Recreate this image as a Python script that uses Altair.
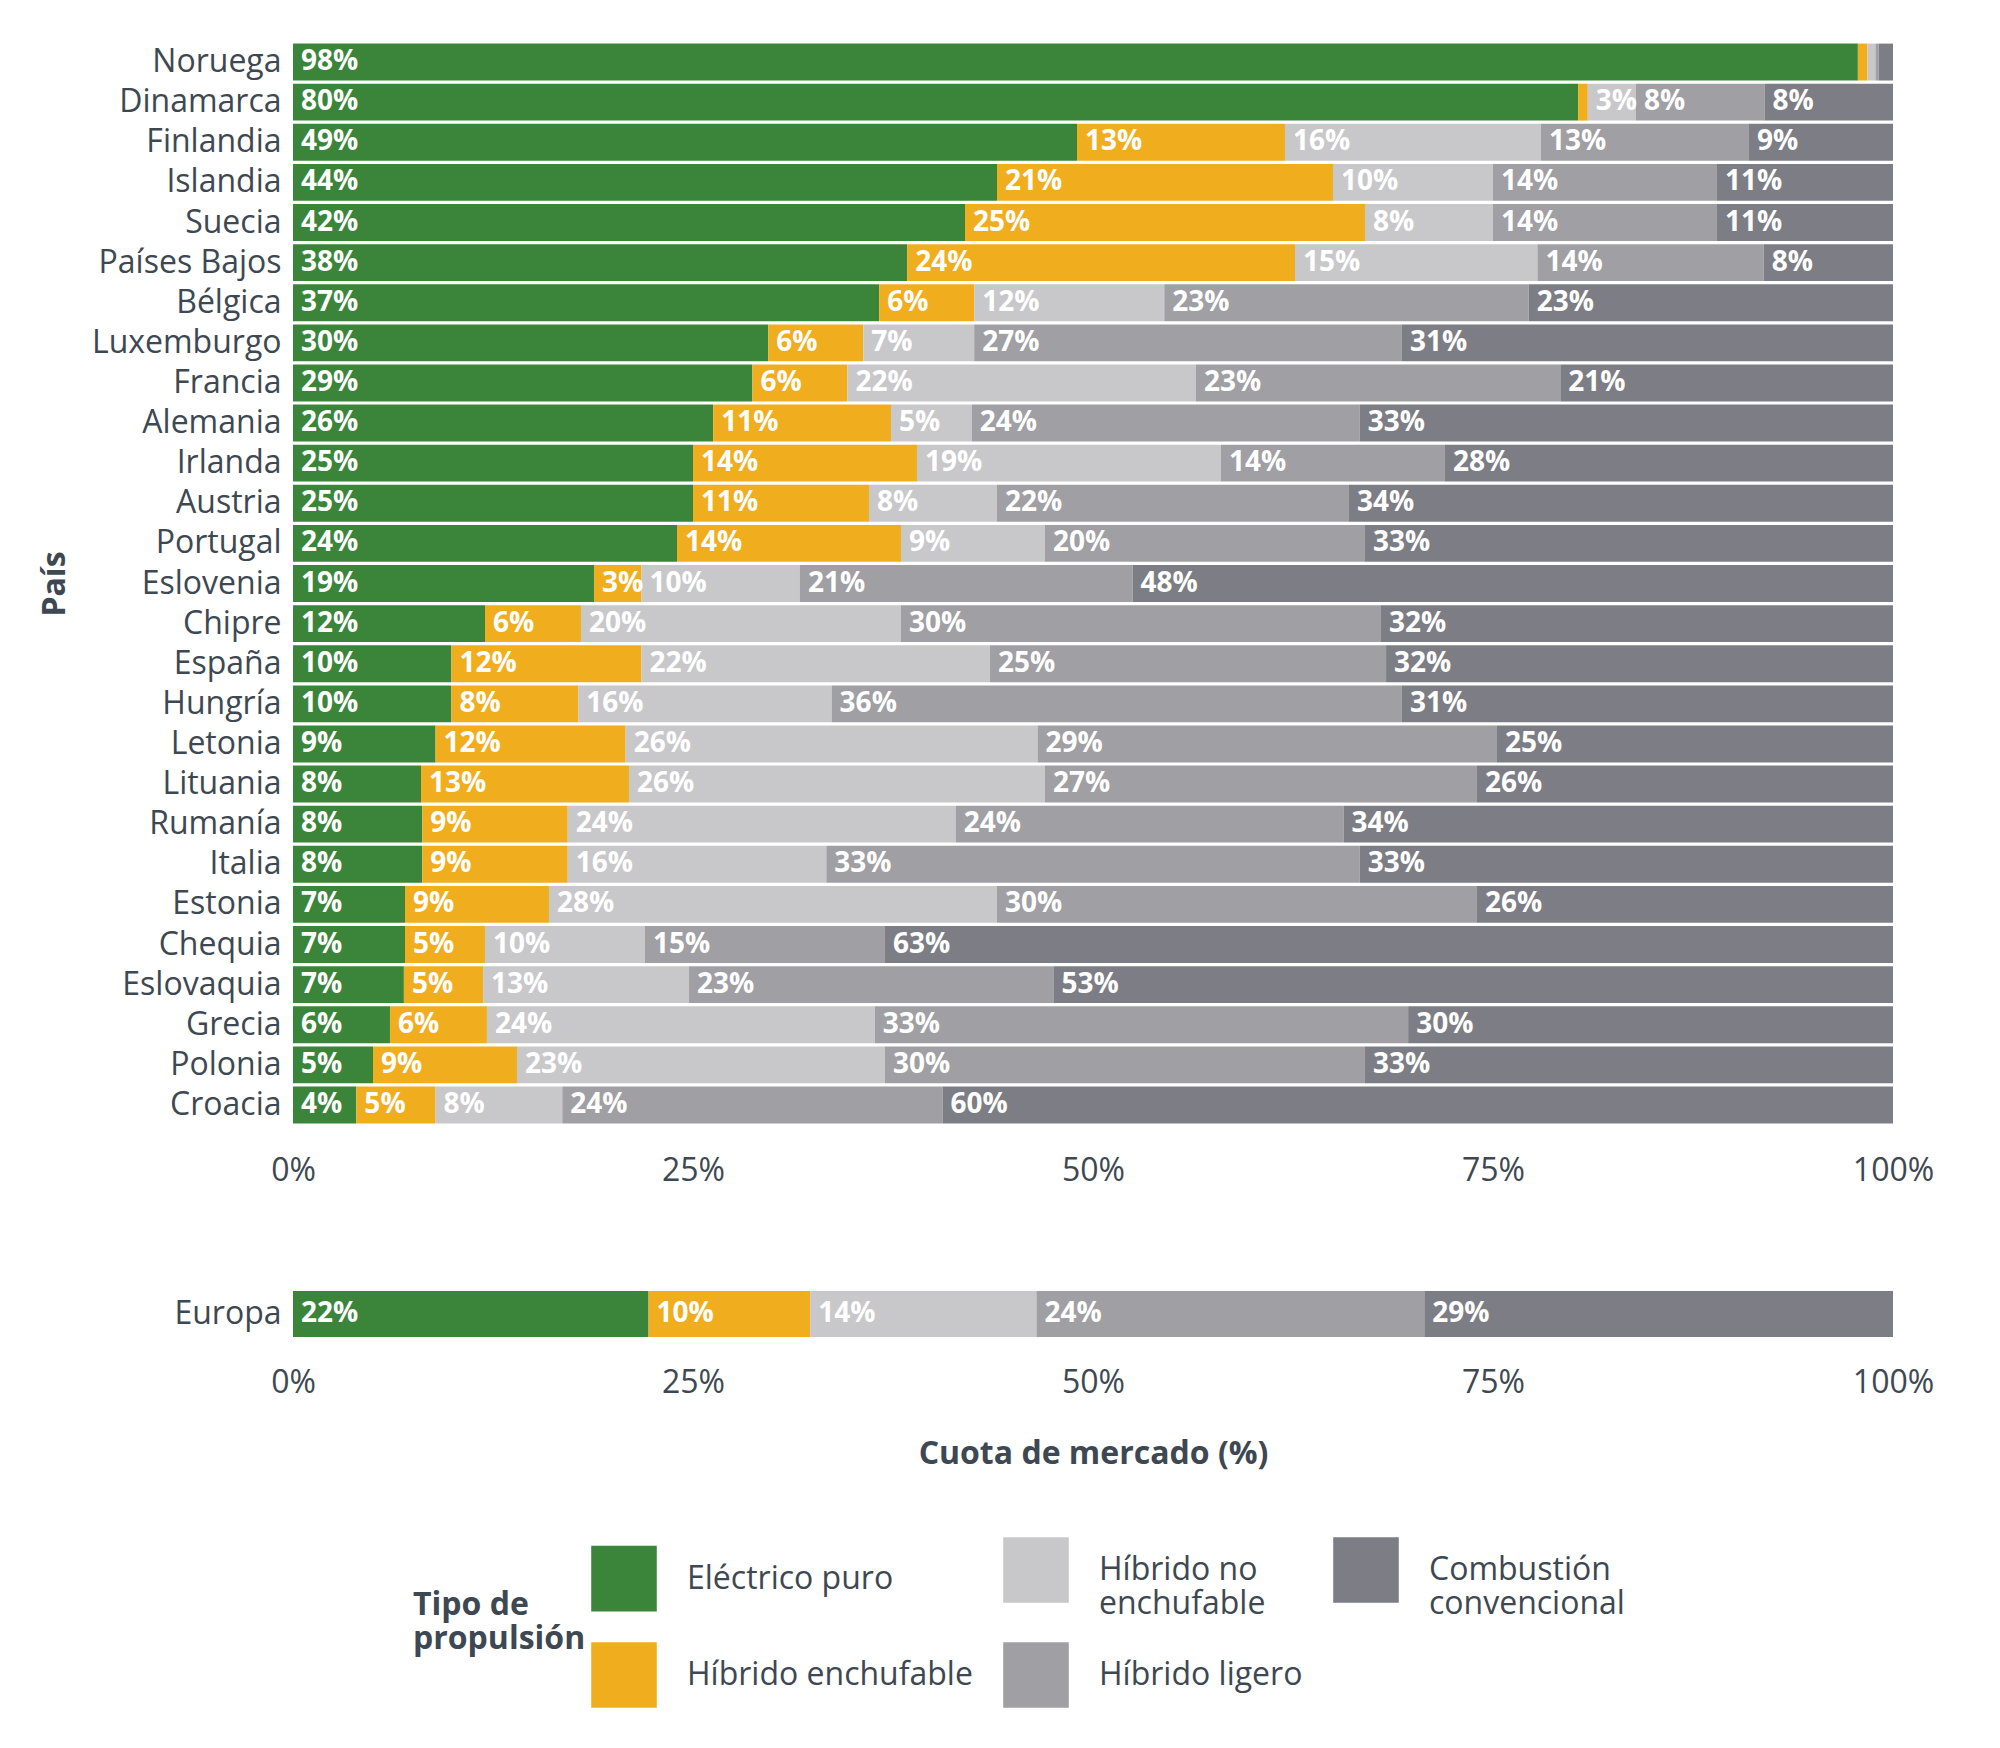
import altair as alt
import pandas as pd

countries = ["Noruega", "Dinamarca", "Finlandia", "Islandia", "Suecia", "Países Bajos",
             "Bélgica", "Luxemburgo", "Francia", "Alemania", "Irlanda", "Austria",
             "Portugal", "Eslovenia", "Chipre", "España", "Hungría", "Letonia",
             "Lituania", "Rumanía", "Italia", "Estonia", "Chequia", "Eslovaquia",
             "Grecia", "Polonia", "Croacia"]

electrico = [98, 80, 49, 44, 42, 38, 37, 30, 29, 26, 25, 25, 24, 19, 12, 10, 10, 9, 8, 8, 8, 7, 7, 7, 6, 5, 4]
enchufable = [0.6, 0.6, 13, 21, 25, 24, 6, 6, 6, 11, 14, 11, 14, 3, 6, 12, 8, 12, 13, 9, 9, 9, 5, 5, 6, 9, 5]
no_enchufable = [0.5, 3, 16, 10, 8, 15, 12, 7, 22, 5, 19, 8, 9, 10, 20, 22, 16, 26, 26, 24, 16, 28, 10, 13, 24, 23, 8]
ligero = [0.2, 8, 13, 14, 14, 14, 23, 27, 23, 24, 14, 22, 20, 21, 30, 25, 36, 29, 27, 24, 33, 30, 15, 23, 33, 30, 24]
combustion = [0.9, 8, 9, 11, 11, 8, 23, 31, 21, 33, 28, 34, 33, 48, 32, 32, 31, 25, 26, 34, 33, 26, 63, 53, 30, 33, 60]

europa = [22, 10, 14, 24, 29]

tipos = ["Eléctrico puro", "Híbrido enchufable", "Híbrido no enchufable",
         "Híbrido ligero", "Combustión convencional"]
colores = ["#3a853a", "#f0ae1f", "#c8c8ca", "#a09fa4", "#7d7e85"]

TXT = "#3d4852"
FONT = "Open Sans"


def build_rows(names, series):
    rows = []
    for i, name in enumerate(names):
        vals = [s[i] for s in series]
        total = sum(vals)
        start = 0.0
        for k, v in enumerate(vals):
            share = v / total
            rows.append({
                "Pais": name, "Tipo": tipos[k], "orden": k,
                "x0": start, "x1": start + share, "valor": v,
                "etiqueta": f"{round(v)}%" if v >= 2.5 else "",
            })
            start += share
    return pd.DataFrame(rows)


df = build_rows(countries, [electrico, enchufable, no_enchufable, ligero, combustion])
df_eu = build_rows(["Europa"], [[v] for v in europa])

color_scale = alt.Scale(domain=tipos, range=colores)

label_expr = ("datum.label == 'Híbrido no enchufable' ? ['Híbrido no', 'enchufable'] : "
              "datum.label == 'Combustión convencional' ? ['Combustión', 'convencional'] : datum.label")

x_axis = alt.Axis(format="%", values=[0, 0.25, 0.5, 0.75, 1], domain=False, ticks=False,
                  grid=False, labelFontSize=32, labelColor=TXT, labelPadding=30,
                  labelFont=FONT, labelFlush=False)


def panel(data, height, y_title_color, x_title, padding):
    base = alt.Chart(data)
    bars = base.mark_bar().encode(
        x=alt.X("x0:Q", scale=alt.Scale(domain=[0, 1], nice=False), axis=x_axis, title=x_title),
        x2="x1:Q",
        y=alt.Y("Pais:N", sort=None, title="País",
                scale=alt.Scale(paddingInner=padding, paddingOuter=padding / 2),
                axis=alt.Axis(domain=False, ticks=False, labelFontSize=32, labelColor=TXT,
                              labelFont=FONT, labelPadding=12, labelLimit=0, titleFontSize=32,
                              titleColor=y_title_color, titleFont=FONT, titlePadding=22)),
        color=alt.Color("Tipo:N", scale=color_scale,
                        legend=alt.Legend(title=["Tipo de", "propulsión"], labelExpr=label_expr,
                                          columns=3, symbolType="square", symbolSize=4300,
                                          symbolStrokeWidth=0, labelFontSize=32, labelColor=TXT,
                                          labelFont=FONT, labelLimit=0, titleFontSize=32,
                                          titleColor=TXT, titleFont=FONT, titleOrient="left",
                                          titleAnchor="middle", titleLimit=0,
                                          columnPadding=30, rowPadding=22, labelOffset=30,
                                          orient="none", legendX=120, legendY=1495)),
        order="orden:Q",
    )
    texts = base.mark_text(align="left", dx=8, color="white", fontWeight="bold",
                           fontSize=28, font=FONT).encode(
        x="x0:Q", y=alt.Y("Pais:N", sort=None), text="etiqueta:N")
    return (bars + texts).properties(width=1600, height=height)


main = panel(df, 1083, TXT, None, 0.08)
eu = panel(df_eu, 46, "white", "Cuota de mercado (%)", 0)

chart = alt.vconcat(main, eu, spacing=95).properties(
    padding={"left": 30, "top": 34, "right": 40, "bottom": 10}
).configure_view(stroke=None).configure_axisX(
    titleFontSize=32, titleColor=TXT, titleFont=FONT, titlePadding=40
).configure_axis(titleFontWeight="bold").configure_legend(titleFontWeight="bold")

chart.save("out.html", embed_options={"renderer": "svg", "actions": False})
